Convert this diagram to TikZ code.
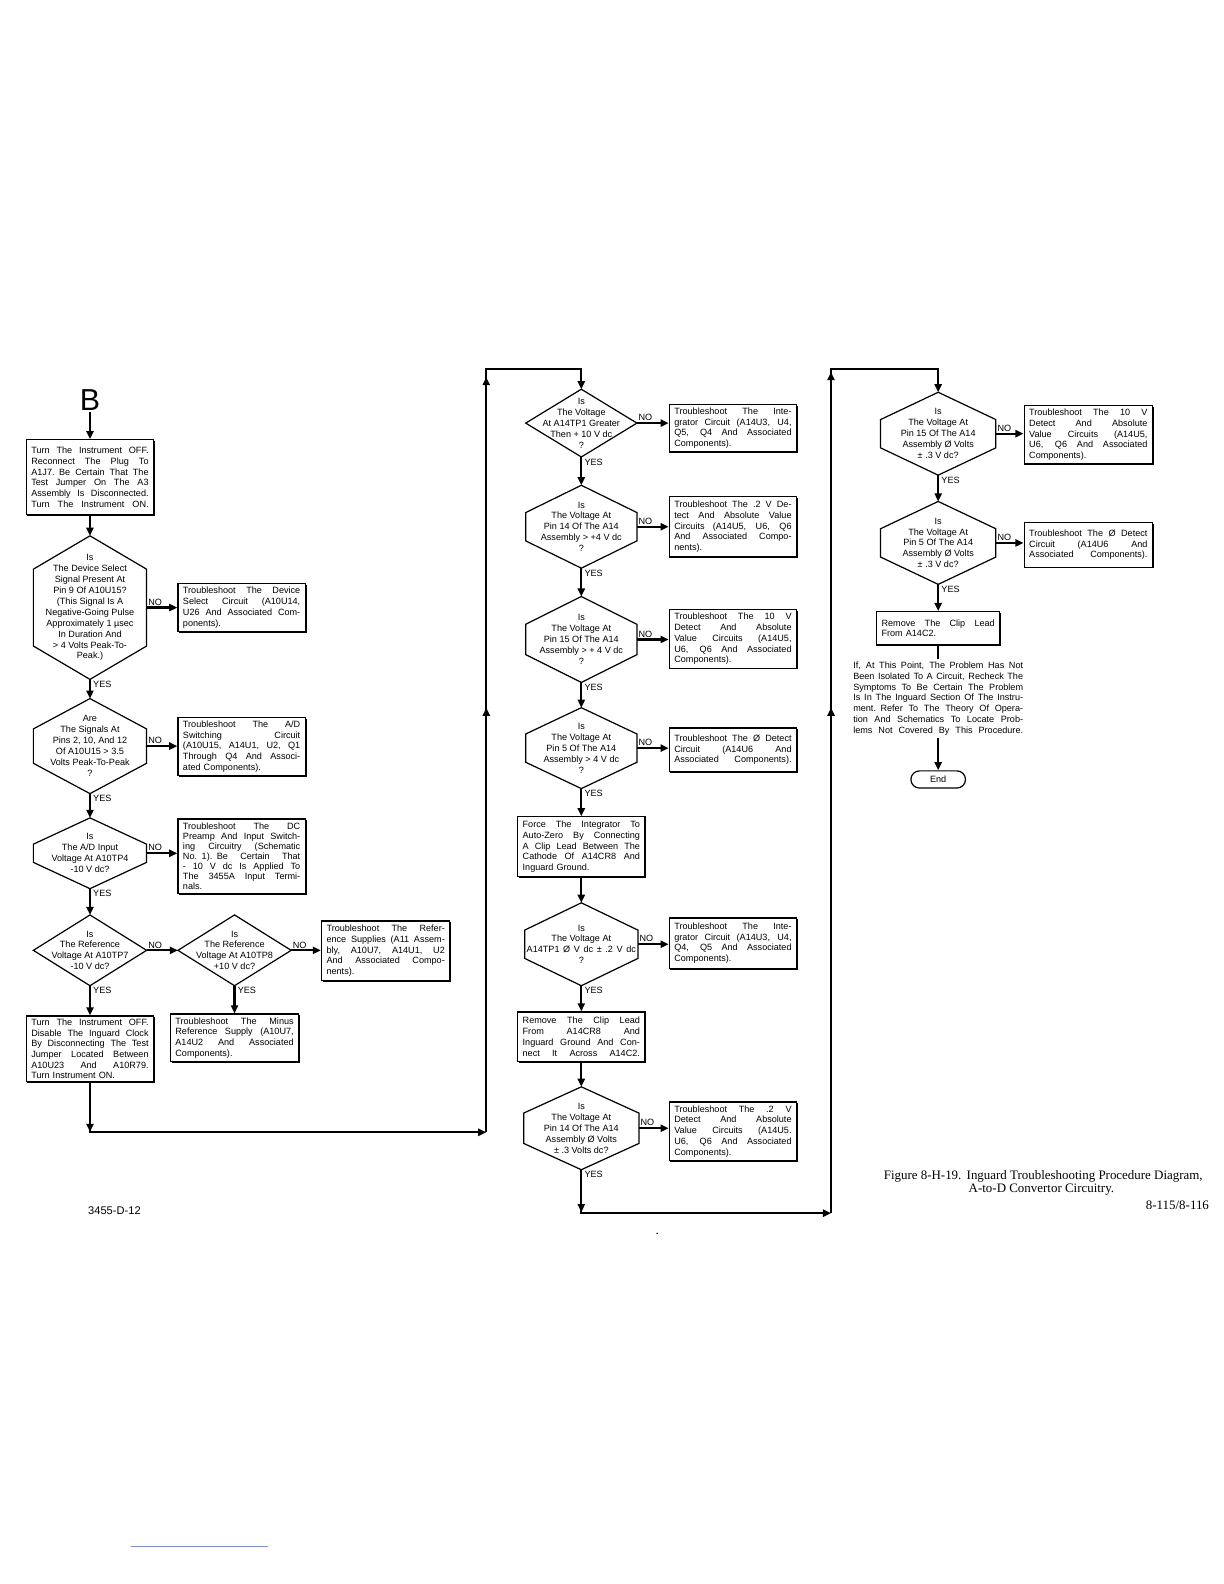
\documentclass[tikz,border=0pt]{standalone}
\usepackage{fontspec}
\setmainfont{Liberation Sans}
\newfontfamily\capserif{Liberation Serif}
\usetikzlibrary{arrows.meta,shadows,decorations.markings}
\definecolor{linkblue}{RGB}{120,140,205}
\newcommand{\boxfnt}{\fontsize{9}{10.6}\selectfont}
\newcommand{\tightfnt}{\fontsize{9}{10}\selectfont}
\newcommand{\parafnt}{\fontsize{9}{10.6}\selectfont}
\newcommand{\qfnt}{\fontsize{9}{10.8}\selectfont}
\newcommand{\lblfnt}{\fontsize{9}{10}\selectfont}
\newcommand{\capfnt}{\capserif\fontsize{12.8}{14}\selectfont}
\newcommand{\Bfnt}{\fontsize{30}{30}\selectfont}
\newcommand{\jline}[1]{\leavevmode\hbox to \hsize{\spaceskip=0.28em plus 2em minus 0.05em\relax #1}\\}
\newcommand{\jlast}[1]{\leavevmode\hbox to \hsize{\spaceskip=0.28em plus 2em minus 0.05em\relax #1}}
% hexagon / diamond question: name, cx, cy, half width, half height, half side, text
\newcommand{\hexq}[7]{%
  \draw[qshape] (#2,#3-#5) -- (#2+#4,#3-#6) -- (#2+#4,#3+#6) -- (#2,#3+#5) -- (#2-#4,#3+#6) -- (#2-#4,#3-#6) -- cycle;
  \node[qtext] (#1) at (#2,#3) {#7};
  \coordinate (#1-t) at (#2,#3-#5);
  \coordinate (#1-b) at (#2,#3+#5);
  \coordinate (#1-r) at (#2+#4,#3);
  \coordinate (#1-l) at (#2-#4,#3);
}
\tikzset{
  conn/.style={line width=2.2pt, line join=miter, -{Triangle[length=8pt,width=7pt]}},
  amark/.style={postaction={decorate, decoration={markings, mark=at position #1 with {\arrow{Triangle[length=8pt,width=7pt]}}}}},
  qshape/.style={draw, line width=1.2pt, line join=miter},
  qtext/.style={align=center, font=\qfnt, inner sep=0pt},
  tbox/.style={draw, line width=1.2pt, fill=white, text width=116pt, inner xsep=5pt, inner ysep=1pt, align=left, font=\boxfnt, drop shadow={shadow xshift=1.2pt, shadow yshift=-1.2pt, fill=black, opacity=1}},
  lbl/.style={font=\lblfnt, inner sep=0.5pt},
}
\begin{document}
\begin{tikzpicture}[x=1pt,y=-1pt]
\fill[white] (0,0) rectangle (1210.7,1566.8);
\useasboundingbox (0,0) rectangle (1210.7,1566.8);

% ================= Column 1 =================
\node[font=\Bfnt, inner sep=1pt] (B) at (89,396) {B};
\node[tbox, minimum height=74pt] (b1) at (89,472) {\jline{Turn The Instrument OFF.}\jline{Reconnect The Plug To}\jline{A1J7. Be Certain That The}\jline{Test Jumper On The A3}\jline{Assembly Is Disconnected.}\jlast{Turn The Instrument ON.}};
\draw[conn] (B.south) -- (b1.north);

\hexq{h1}{89}{601}{56}{71}{38}{Is\\The Device Select\\Signal Present At\\Pin 9 Of A10U15?\\(This Signal Is A\\Negative-Going Pulse\\Approximately 1 µsec\\In Duration And\\> 4 Volts Peak-To-\\Peak.)}
\draw[conn] (b1.south) -- (h1-t);
\node[tbox, minimum height=48pt] (b2) at (239,601) {\jline{Troubleshoot The Device}\jline{Select Circuit (A10U14,}\jline{U26 And Associated Com-}ponents).};
\draw[conn] (h1-r) -- (h1-r -| b2.west);
\node[lbl, anchor=south west, xshift=1pt, yshift=1.5pt] (no1) at (h1-r) {NO};
\node[lbl, anchor=north west, xshift=2.5pt, yshift=-1pt] (yes1) at (h1-b) {YES};

\hexq{h2}{89}{738}{56}{47}{17}{Are\\The Signals At\\Pins 2, 10, And 12\\Of A10U15 > 3.5\\Volts Peak-To-Peak\\?}
\draw[conn] (h1-b) -- (h2-t);
\node[tbox, minimum height=57pt] (b3) at (239,738.5) {\jline{Troubleshoot The A/D}\jline{Switching Circuit}\jline{(A10U15, A14U1, U2, Q1}\jline{Through Q4 And Associ-}ated Components).};
\draw[conn] (h2-r) -- (h2-r -| b3.west);
\node[lbl, anchor=south west, xshift=1pt, yshift=1.5pt] (no2) at (h2-r) {NO};
\node[lbl, anchor=north west, xshift=2.5pt, yshift=-1pt] (yes2) at (h2-b) {YES};

\hexq{h3}{89}{844}{56}{35}{9}{Is\\The A/D Input\\Voltage At A10TP4\\-10 V dc?}
\draw[conn] (h2-b) -- (h3-t);
\node[tbox, font=\tightfnt, minimum height=74pt] (b4) at (239,847) {\jline{Troubleshoot The DC}\jline{Preamp And Input Switch-}\jline{ing Circuitry (Schematic}\jline{No. 1). Be Certain That}\jline{- 10 V dc Is Applied To}\jline{The 3455A Input Termi-}nals.};
\draw[conn] (h3-r) -- (h3-r -| b4.west);
\node[lbl, anchor=south west, xshift=1pt, yshift=1.5pt] (no3) at (h3-r) {NO};
\node[lbl, anchor=north west, xshift=2.5pt, yshift=-1pt] (yes3) at (h3-b) {YES};

\hexq{h4}{89}{940}{56}{35}{0}{Is\\The Reference\\Voltage At A10TP7\\-10 V dc?}
\draw[conn] (h3-b) -- (h4-t);
\hexq{h5}{232}{940}{56}{35}{0}{Is\\The Reference\\Voltage At A10TP8\\+10 V dc?}
\draw[conn] (h4-r) -- (h5-l);
\node[lbl, anchor=south west, xshift=1pt, yshift=1.5pt] (no4) at (h4-r) {NO};
\node[tbox, minimum height=59pt, text width=117pt] (b5) at (381.5,940.5) {\jline{Troubleshoot The Refer-}\jline{ence Supplies (A11 Assem-}\jline{bly, A10U7, A14U1, U2}\jline{And Associated Compo-}nents).};
\draw[conn] (h5-r) -- (h5-r -| b5.west);
\node[lbl, anchor=south west, xshift=1pt, yshift=1.5pt] (no5) at (h5-r) {NO};
\node[lbl, anchor=north west, xshift=2.5pt, yshift=-1pt] (yes4) at (h4-b) {YES};
\node[lbl, anchor=north west, xshift=2.5pt, yshift=-1pt] (yes5) at (h5-b) {YES};

\node[tbox, minimum height=65pt] (b6) at (89,1037.5) {\jline{Turn The Instrument OFF.}\jline{Disable The Inguard Clock}\jline{By Disconnecting The Test}\jline{Jumper Located Between}\jline{A10U23 And A10R79.}Turn Instrument ON.};
\draw[conn] (h4-b) -- (b6.north);
\node[tbox, minimum height=47pt, text width=117pt] (b7) at (232,1026.5) {\jline{Troubleshoot The Minus}\jline{Reference Supply (A10U7,}\jline{A14U2 And Associated}Components).};
\draw[conn] (h5-b) -- (b7.north);

\coordinate (p1) at (89,1120);
\coordinate (p2) at (481,1120);
\coordinate (p4) at (481,365);
\coordinate (p5) at (575,365);
\draw[conn, amark=49pt] (b6.south) -- (p1) -- (p2);

% ================= Column 2 =================
\hexq{c1}{575}{418.5}{55}{33.5}{0}{Is\\The Voltage\\At A14TP1 Greater\\Then + 10 V dc\\?}
\draw[conn, amark=420pt, amark=747pt] (p2) -- (p4) -- (p5) -- (c1-t);
\node[tbox, minimum height=47pt] (k1) at (725,423.5) {\jline{Troubleshoot The Inte-}\jline{grator Circuit (A14U3, U4,}\jline{Q5, Q4 And Associated}Components).};
\draw[conn] (c1-r) -- (c1-r -| k1.west);
\node[lbl, anchor=south west, xshift=1pt, yshift=1.5pt] (no6) at (c1-r) {NO};
\node[lbl, anchor=north west, xshift=2.5pt, yshift=-1pt] (yes6) at (c1-b) {YES};

\hexq{c2}{575}{521}{55}{41}{14}{Is\\The Voltage At\\Pin 14 Of The A14\\Assembly > +4 V dc\\?}
\draw[conn] (c1-b) -- (c2-t);
\node[tbox, minimum height=60pt] (k2) at (725,521) {\jline{Troubleshoot The .2 V De-}\jline{tect And Absolute Value}\jline{Circuits (A14U5, U6, Q6}\jline{And Associated Compo-}nents).};
\draw[conn] (c2-r) -- (c2-r -| k2.west);
\node[lbl, anchor=south west, xshift=1pt, yshift=1.5pt] (no7) at (c2-r) {NO};
\node[lbl, anchor=north west, xshift=2.5pt, yshift=-1pt] (yes7) at (c2-b) {YES};

\hexq{c3}{575}{632.5}{55}{42.5}{15}{Is\\The Voltage At\\Pin 15 Of The A14\\Assembly > + 4 V dc\\?}
\draw[conn] (c2-b) -- (c3-t);
\node[tbox, minimum height=58pt] (k3) at (725,632) {\jline{Troubleshoot The 10 V}\jline{Detect And Absolute}\jline{Value Circuits (A14U5,}\jline{U6, Q6 And Associated}Components).};
\draw[conn] (c3-r) -- (c3-r -| k3.west);
\node[lbl, anchor=south west, xshift=1pt, yshift=1.5pt] (no8) at (c3-r) {NO};
\node[lbl, anchor=north west, xshift=2.5pt, yshift=-1pt] (yes8) at (c3-b) {YES};

\hexq{c4}{575}{740}{55}{40}{14}{Is\\The Voltage At\\Pin 5 Of The A14\\Assembly > 4 V dc\\?}
\draw[conn] (c3-b) -- (c4-t);
\node[tbox, minimum height=43pt] (k4) at (725,741.5) {\jline{Troubleshoot The Ø Detect}\jline{Circuit (A14U6 And}\jlast{Associated Components).}};
\draw[conn] (c4-r) -- (c4-r -| k4.west);
\node[lbl, anchor=south west, xshift=1pt, yshift=1.5pt] (no9) at (c4-r) {NO};
\node[lbl, anchor=north west, xshift=2.5pt, yshift=-1pt] (yes9) at (c4-b) {YES};

\node[tbox, minimum height=59pt] (k5) at (575,837.5) {\jline{Force The Integrator To}\jline{Auto-Zero By Connecting}\jline{A Clip Lead Between The}\jline{Cathode Of A14CR8 And}Inguard Ground.};
\draw[conn] (c4-b) -- (k5.north);

\hexq{c6}{575}{934}{56}{41}{14}{Is\\The Voltage At\\\leavevmode\hbox to 108pt{\spaceskip=0.28em plus 2em\relax A14TP1 Ø V dc ± .2 V dc}\\?}
\draw[conn] (k5.south) -- (c6-t);
\node[tbox, minimum height=50pt] (k6) at (725,933) {\jline{Troubleshoot The Inte-}\jline{grator Circuit (A14U3, U4,}\jline{Q4, Q5 And Associated}Components).};
\draw[conn] (c6-r) -- (c6-r -| k6.west);
\node[lbl, anchor=south west, xshift=1pt, yshift=1.5pt] (no10) at (c6-r) {NO};
\node[lbl, anchor=north west, xshift=2.5pt, yshift=-1pt] (yes10) at (c6-b) {YES};

\node[tbox, minimum height=49pt] (k7) at (575,1025.5) {\jline{Remove The Clip Lead}\jline{From A14CR8 And}\jline{Inguard Ground And Con-}\jlast{nect It Across A14C2.}};
\draw[conn] (c6-b) -- (k7.north);

\hexq{c8}{575}{1116}{57}{41}{15}{Is\\The Voltage At\\Pin 14 Of The A14\\Assembly Ø Volts\\± .3 Volts dc?}
\draw[conn] (k7.south) -- (c8-t);
\node[tbox, minimum height=58pt] (k8) at (725,1119) {\jline{Troubleshoot The .2 V}\jline{Detect And Absolute}\jline{Value Circuits (A14U5.}\jline{U6, Q6 And Associated}Components).};
\draw[conn] (c8-r) -- (c8-r -| k8.west);
\node[lbl, anchor=south west, xshift=1pt, yshift=1.5pt] (no11) at (c8-r) {NO};
\node[lbl, anchor=north west, xshift=2.5pt, yshift=-1pt] (yes11) at (c8-b) {YES};

\coordinate (q1) at (575,1200);
\coordinate (q2) at (822,1200);
\coordinate (q3) at (822,365);
\coordinate (q4) at (928,365);
\draw[conn, amark=42pt] (c8-b) -- (q1) -- (q2);

% ================= Column 3 =================
\hexq{d1}{928}{429}{57}{41}{14}{Is\\The Voltage At\\Pin 15 Of The A14\\Assembly Ø Volts\\± .3 V dc?}
\draw[conn, amark=500pt, amark=832pt] (q2) -- (q3) -- (q4) -- (d1-t);
\node[tbox, minimum height=58pt, text width=117pt] (m1) at (1076.5,430) {\jline{Troubleshoot The 10 V}\jline{Detect And Absolute}\jline{Value Circuits (A14U5,}\jline{U6, Q6 And Associated}Components).};
\draw[conn] (d1-r) -- (d1-r -| m1.west);
\node[lbl, anchor=south west, xshift=1pt, yshift=1.5pt] (no12) at (d1-r) {NO};
\node[lbl, anchor=north west, xshift=2.5pt, yshift=-1pt] (yes12) at (d1-b) {YES};

\hexq{d2}{928}{537}{57}{41}{14}{Is\\The Voltage At\\Pin 5 Of The A14\\Assembly Ø Volts\\± .3 V dc?}
\draw[conn] (d1-b) -- (d2-t);
\node[tbox, minimum height=44pt, text width=117pt] (m2) at (1076.5,539) {\jline{Troubleshoot The Ø Detect}\jline{Circuit (A14U6 And}\jlast{Associated Components).}};
\draw[conn] (d2-r) -- (d2-r -| m2.west);
\node[lbl, anchor=south west, xshift=1pt, yshift=1.5pt] (no13) at (d2-r) {NO};
\node[lbl, anchor=north west, xshift=2.5pt, yshift=-1pt] (yes13) at (d2-b) {YES};

\node[tbox, minimum height=33pt, text width=112pt] (m3) at (928,621.5) {\jline{Remove The Clip Lead}From A14C2.};
\draw[conn] (d2-b) -- (m3.north);

\node[font=\parafnt, text width=168pt, align=left, inner xsep=0pt, inner ysep=3pt] (pg) at (928,691) {\jline{If, At This Point, The Problem Has Not}\jline{Been Isolated To A Circuit, Recheck The}\jline{Symptoms To Be Certain The Problem}\jline{Is In The Inguard Section Of The Instru-}\jline{ment. Refer To The Theory Of Opera-}\jline{tion And Schematics To Locate Prob-}\jlast{lems Not Covered By This Procedure.}};
\draw[line width=2.2pt] (m3.south) -- (pg.north);
\node[draw, line width=1.2pt, rounded corners=8.5pt, minimum width=54pt, minimum height=17pt, inner sep=0pt, font=\lblfnt] (endn) at (928,771) {End};
\draw[conn] (pg.south) -- (endn.north);

% ================= Captions =================
\node[font=\fontsize{11}{13}\selectfont, anchor=base west, inner sep=0pt] (dwgno) at (87,1201) {3455-D-12};
\node[font=\capfnt, anchor=base west, inner sep=0pt] (cap1) at (874,1167) {Figure 8-H-19.};
\node[font=\capfnt, anchor=base west, inner sep=0pt] (cap2) at (956,1167) {Inguard Troubleshooting Procedure Diagram,};
\node[font=\capfnt, anchor=base west, inner sep=0pt] (cap3) at (958,1180) {A-to-D Convertor Circuitry.};
\node[font=\capfnt, anchor=base east, inner sep=0pt] (pgno) at (1196,1196) {8-115/8-116};
\fill (650,1220) circle (0.8);
\draw[linkblue, line width=0.8pt] (130,1530) -- (265,1530);
\end{tikzpicture}
\end{document}
